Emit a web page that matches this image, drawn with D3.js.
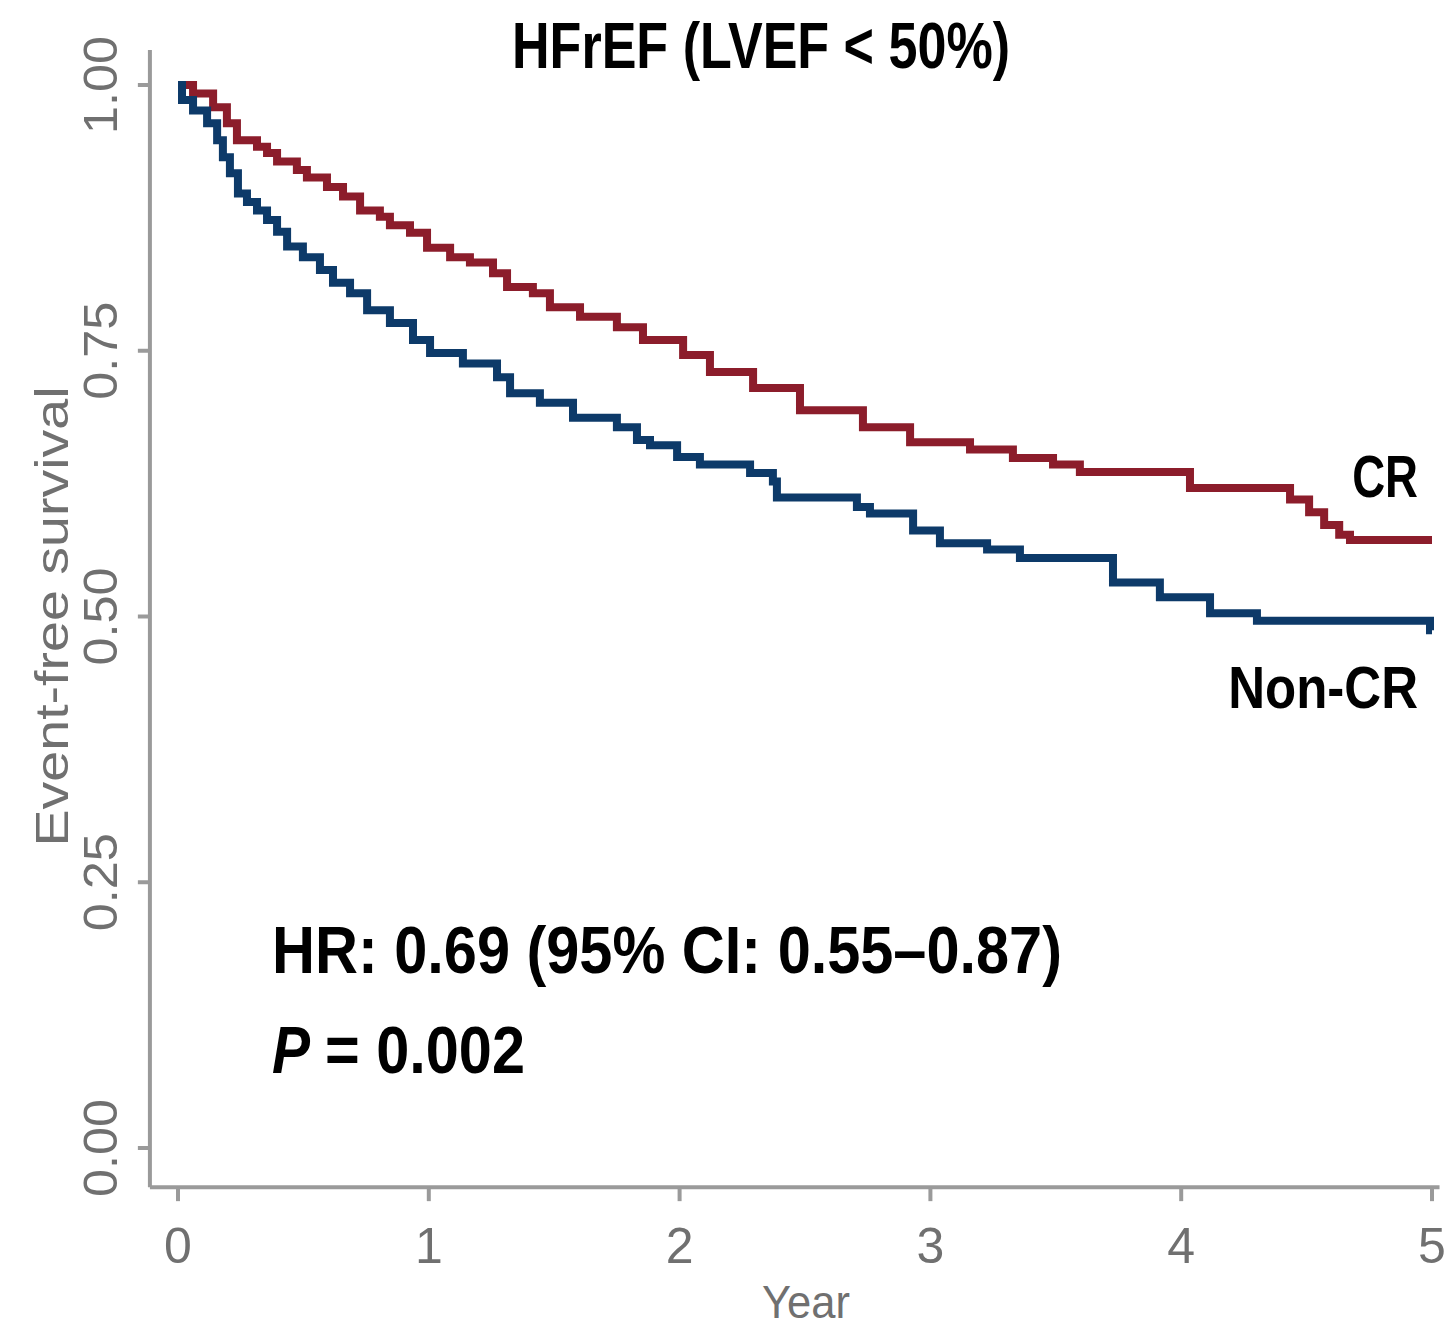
<!DOCTYPE html>
<html>
<head>
<meta charset="utf-8">
<script src="https://cdn.jsdelivr.net/npm/d3@7"></script>
<style>
  body { margin: 0; background: #fff; }
  text { font-family: "Liberation Sans", Arial, sans-serif; }
</style>
</head>
<body>
<svg></svg>
<script>
// Kaplan-Meier Stufen (Zeit in Jahren, Überleben)
const crTime   = [0, 0.06, 0.14, 0.195, 0.235, 0.315, 0.355, 0.395, 0.474, 0.514, 0.594, 0.658, 0.726, 0.805, 0.845, 0.925, 0.993, 1.085, 1.164, 1.256, 1.312, 1.415, 1.483, 1.603, 1.75, 1.854, 2.014, 2.121, 2.293, 2.48, 2.731, 2.919, 3.158, 3.329, 3.489, 3.596, 4.035, 4.434, 4.51, 4.57, 4.63, 4.673];
const crSurv   = [1.0, 0.992, 0.979, 0.964, 0.948, 0.942, 0.936, 0.928, 0.92, 0.913, 0.904, 0.895, 0.882, 0.876, 0.868, 0.861, 0.847, 0.838, 0.833, 0.823, 0.81, 0.804, 0.791, 0.782, 0.772, 0.76, 0.746, 0.73, 0.715, 0.694, 0.678, 0.664, 0.657, 0.649, 0.643, 0.636, 0.621, 0.61, 0.598, 0.586, 0.577, 0.572];

const nonCrTime = [0, 0.016, 0.06, 0.116, 0.156, 0.179, 0.207, 0.239, 0.275, 0.315, 0.355, 0.395, 0.435, 0.498, 0.566, 0.618, 0.686, 0.754, 0.845, 0.937, 1.005, 1.136, 1.272, 1.324, 1.443, 1.575, 1.75, 1.83, 1.882, 1.99, 2.081, 2.281, 2.372, 2.388, 2.707, 2.759, 2.931, 3.038, 3.226, 3.357, 3.728, 3.915, 4.115, 4.302, 4.992];
const nonCrSurv = [1.0, 0.986, 0.976, 0.964, 0.948, 0.932, 0.917, 0.898, 0.89, 0.882, 0.873, 0.862, 0.848, 0.838, 0.826, 0.814, 0.804, 0.788, 0.776, 0.76, 0.748, 0.738, 0.725, 0.71, 0.701, 0.687, 0.678, 0.666, 0.661, 0.65, 0.643, 0.635, 0.627, 0.612, 0.603, 0.597, 0.581, 0.569, 0.563, 0.555, 0.532, 0.518, 0.503, 0.496, 0.487];

const xTicks = [0, 1, 2, 3, 4, 5];
const yTicks = [0, 0.25, 0.5, 0.75, 1];
const groupNames = ["CR", "Non-CR"];

const width = 1449, height = 1329;

const svg = d3.select("svg")
    .attr("width", width)
    .attr("height", height);

const x = d3.scaleLinear().domain([0, 5]).range([178, 1432]);
const y = d3.scaleLinear().domain([0, 1]).range([1148, 85]);

const axisColor = "#9a9a9a";
const labelColor = "#707070";

// Achsenlinien
svg.append("line")
    .attr("x1", x(-0.112)).attr("x2", x(-0.112))
    .attr("y1", y(1.033)).attr("y2", y(-0.037))
    .attr("stroke", axisColor).attr("stroke-width", 4);

svg.append("line")
    .attr("x1", x(-0.112)).attr("x2", x(5.03))
    .attr("y1", y(-0.037)).attr("y2", y(-0.037))
    .attr("stroke", axisColor).attr("stroke-width", 4);

// y Ticks
const yAxis = svg.append("g").attr("class", "yTicks");
yAxis.selectAll("line")
    .data(yTicks)
    .enter()
    .append("line")
    .attr("x1", x(-0.112)).attr("x2", x(-0.16))
    .attr("y1", d => y(d)).attr("y2", d => y(d))
    .attr("stroke", axisColor).attr("stroke-width", 4);

yAxis.selectAll("text")
    .data(yTicks)
    .enter()
    .append("text")
    .attr("transform", d => `translate(117 ${y(d)}) rotate(-90)`)
    .attr("text-anchor", "middle")
    .attr("font-size", 48)
    .attr("fill", labelColor)
    .attr("textLength", 98).attr("lengthAdjust", "spacingAndGlyphs")
    .text(d => d3.format(".2f")(d));

// x Ticks
const xAxis = svg.append("g").attr("class", "xTicks");
xAxis.selectAll("line")
    .data(xTicks)
    .enter()
    .append("line")
    .attr("x1", d => x(d)).attr("x2", d => x(d))
    .attr("y1", y(-0.037)).attr("y2", y(-0.05))
    .attr("stroke", axisColor).attr("stroke-width", 4);

xAxis.selectAll("text")
    .data(xTicks)
    .enter()
    .append("text")
    .attr("x", d => x(d))
    .attr("y", 1263)
    .attr("text-anchor", "middle")
    .attr("font-size", 50)
    .attr("fill", labelColor)
    .text(d => d);

// Achsentitel
svg.append("text")
    .attr("x", 806).attr("y", 1318)
    .attr("text-anchor", "middle")
    .attr("font-size", 46)
    .attr("fill", labelColor)
    .attr("textLength", 88).attr("lengthAdjust", "spacingAndGlyphs")
    .text("Year");

svg.append("text")
    .attr("transform", `translate(68 ${y(0.5)}) rotate(-90)`)
    .attr("text-anchor", "middle")
    .attr("font-size", 46)
    .attr("fill", labelColor)
    .attr("textLength", 460).attr("lengthAdjust", "spacingAndGlyphs")
    .text("Event-free survival");

// Kurven
const line = d3.line()
    .x(d => x(d.t))
    .y(d => y(d.s))
    .curve(d3.curveStepAfter);

function steps(times, surv) {
    const pts = times.map((t, i) => ({ t: t, s: surv[i] }));
    pts.push({ t: 5, s: surv[surv.length - 1] });
    return pts;
}

svg.append("path")
    .datum(steps(crTime, crSurv))
    .attr("d", line)
    .attr("fill", "none")
    .attr("stroke", "#8c1d2b")
    .attr("stroke-width", 8);

svg.append("path")
    .datum(steps(nonCrTime, nonCrSurv))
    .attr("d", line)
    .attr("fill", "none")
    .attr("stroke", "#0d3a69")
    .attr("stroke-width", 8);

// Beschriftungen
svg.append("text")
    .attr("x", 512).attr("y", 68)
    .attr("font-size", 64).attr("font-weight", "bold")
    .attr("textLength", 498).attr("lengthAdjust", "spacingAndGlyphs")
    .text("HFrEF (LVEF < 50%)");

// Gruppennamen schmal skaliert
svg.append("text")
    .attr("transform", "translate(1418 497) scale(0.76 1)")
    .attr("text-anchor", "end")
    .attr("font-size", 60).attr("font-weight", "bold")
    .text(groupNames[0]);

svg.append("text")
    .attr("transform", "translate(1418 708) scale(0.85 1)")
    .attr("text-anchor", "end")
    .attr("font-size", 60).attr("font-weight", "bold")
    .text(groupNames[1]);

svg.append("text")
    .attr("x", 272).attr("y", 973)
    .attr("font-size", 66).attr("font-weight", "bold")
    .attr("textLength", 790).attr("lengthAdjust", "spacingAndGlyphs")
    .text("HR: 0.69 (95% CI: 0.55–0.87)");

svg.append("text")
    .attr("x", 272).attr("y", 1073)
    .attr("font-size", 66).attr("font-weight", "bold").attr("font-style", "italic")
    .attr("textLength", 38).attr("lengthAdjust", "spacingAndGlyphs")
    .text("P");

svg.append("text")
    .attr("x", 325).attr("y", 1073)
    .attr("font-size", 66).attr("font-weight", "bold")
    .attr("textLength", 200).attr("lengthAdjust", "spacingAndGlyphs")
    .text("= 0.002");
</script>
</body>
</html>
